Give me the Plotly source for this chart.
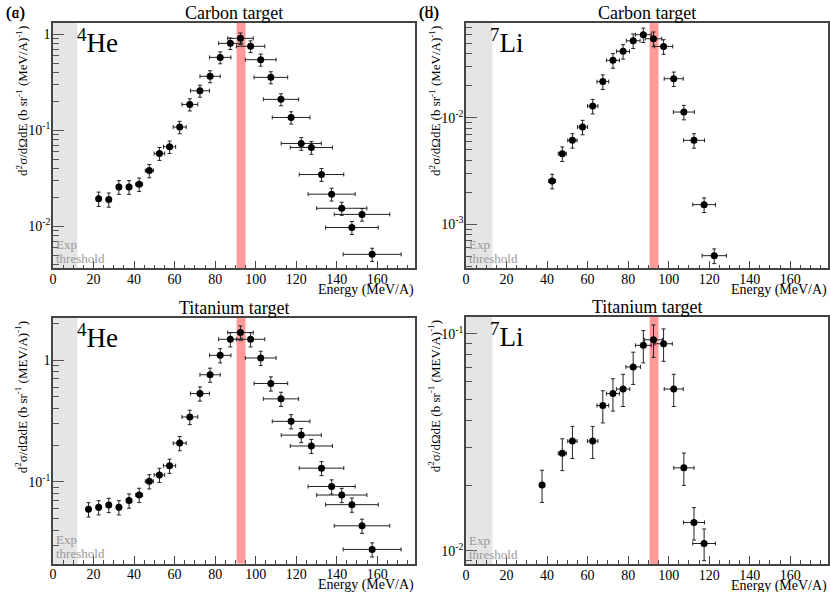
import plotly.graph_objects as go

# ---------------- data ----------------
# (a) 4He, carbon target
he_c_E = [22.5, 27.5, 32.5, 37.5, 42.5, 47.5, 52.5, 57.5, 62.5, 67.5, 72.5, 77.5, 82.5, 87.5,
          92.5, 97.5, 102.5, 107.5, 112.5, 117.5, 122.5, 127.5, 132.5, 137.5, 142.5, 147.5, 152.5, 157.5]
he_c_y = [0.0194, 0.0190, 0.0257, 0.0257, 0.0274, 0.038, 0.0573, 0.0673, 0.108, 0.186, 0.258, 0.365,
          0.575, 0.805, 0.908, 0.750, 0.544, 0.356, 0.210, 0.136, 0.0729, 0.0662, 0.0346, 0.0216,
          0.0154, 0.0097, 0.0133, 0.0051]
he_c_ey = [0.0033, 0.0032, 0.0042, 0.0042, 0.0044, 0.0060, 0.0088, 0.0100, 0.016, 0.027, 0.037, 0.052,
           0.082, 0.11, 0.125, 0.105, 0.078, 0.051, 0.030, 0.020, 0.011, 0.010, 0.0053, 0.0033,
           0.0024, 0.0015, 0.0020, 0.0008]
he_c_ex = [1.0, 1.0, 1.1, 1.3, 1.7, 2.0, 2.6, 3.0, 3.2, 3.9, 4.7, 5.0, 5.3, 5.8, 6.3, 7.0, 7.6, 8.3,
           8.7, 9.3, 9.9, 10.4, 11.0, 11.6, 12.4, 13.0, 13.7, 14.3]

# (b) 7Li, carbon target
li_c_E = [42.5, 47.5, 52.5, 57.5, 62.5, 67.5, 72.5, 77.5, 82.5, 87.5, 92.5, 97.5, 102.5, 107.5,
          112.5, 117.5, 122.5]
li_c_y = [0.00255, 0.0046, 0.00613, 0.00818, 0.01286, 0.0218, 0.0345, 0.0419, 0.0527, 0.0600,
          0.0550, 0.0466, 0.0232, 0.0113, 0.00613, 0.00153, 0.000508]
li_c_ey = [0.0004, 0.00072, 0.00095, 0.00127, 0.0020, 0.0034, 0.0054, 0.0065, 0.0082, 0.0093,
           0.0086, 0.0073, 0.0036, 0.00175, 0.00095, 0.00024, 0.00008]
li_c_ex = [1.7, 2.0, 2.3, 2.5, 2.6, 2.9, 3.2, 3.2, 3.4, 3.9, 4.1, 4.5, 4.7, 5.2, 5.2, 5.6, 6.0]

# (c) 4He, titanium target
he_t_E = [17.5, 22.5, 27.5, 32.5, 37.5, 42.5, 47.5, 52.5, 57.5, 62.5, 67.5, 72.5, 77.5, 82.5, 87.5,
          92.5, 97.5, 102.5, 107.5, 112.5, 117.5, 122.5, 127.5, 132.5, 137.5, 142.5, 147.5, 152.5, 157.5]
he_t_y = [0.0595, 0.0618, 0.0646, 0.0618, 0.0702, 0.0781, 0.101, 0.114, 0.1355, 0.208, 0.341, 0.531,
          0.757, 1.093, 1.48, 1.68, 1.48, 1.04, 0.642, 0.480, 0.314, 0.242, 0.197, 0.1296, 0.0916,
          0.078, 0.065, 0.0436, 0.0279]
he_t_ey = [0.0080, 0.0083, 0.0087, 0.0083, 0.0094, 0.0105, 0.0135, 0.0153, 0.018, 0.028, 0.046, 0.071,
           0.10, 0.146, 0.20, 0.225, 0.20, 0.14, 0.086, 0.064, 0.042, 0.032, 0.026, 0.017, 0.0123,
           0.0105, 0.0087, 0.0058, 0.0037]
he_t_ex = [0.9, 1.0, 1.0, 1.1, 1.3, 1.7, 2.0, 2.6, 3.0, 3.2, 3.9, 4.7, 5.0, 5.3, 5.8, 6.3, 7.0, 7.6,
           8.3, 8.7, 9.3, 9.9, 10.4, 11.0, 11.6, 12.4, 13.0, 13.7, 14.3]

# (d) 7Li, titanium target
li_t_E = [37.5, 47.5, 52.5, 62.5, 67.5, 72.5, 77.5, 82.5, 87.5, 92.5, 97.5, 102.5, 107.5, 112.5, 117.5]
li_t_y = [0.0201, 0.0281, 0.0320, 0.0320, 0.0467, 0.0530, 0.0556, 0.0703, 0.0884, 0.0938, 0.0899,
          0.0556, 0.0241, 0.0135, 0.0108]
li_t_ey = [0.0034, 0.0047, 0.0054, 0.0054, 0.0079, 0.0090, 0.0094, 0.0119, 0.0150, 0.0160, 0.0153,
           0.0094, 0.0041, 0.0023, 0.0018]
li_t_ex = [1.3, 2.0, 2.3, 2.6, 2.9, 3.2, 3.3, 3.6, 3.9, 4.4, 4.3, 4.7, 5.0, 5.2, 5.6]

panel_labels = ["(a)", "(b)", "(c)", "(d)"]
panel_titles = ["Carbon target", "Carbon target", "Titanium target", "Titanium target"]
ions = ["<sup>4</sup>He", "<sup>7</sup>Li", "<sup>4</sup>He", "<sup>7</sup>Li"]
ytitles = ["d<sup>2</sup>σ/dΩdE (b sr<sup>-1</sup> (MeV/A)<sup>-1</sup>)",
           "d<sup>2</sup>σ/dΩdE (b sr<sup>-1</sup> (MeV/A)<sup>-1</sup>)",
           "d<sup>2</sup>σ/dΩdE (b sr<sup>-1</sup> (MEV/A)<sup>-1</sup>)",
           "d<sup>2</sup>σ/dΩdE (b sr<sup>-1</sup> (MEV/A)<sup>-1</sup>)"]
xtitle = "Energy (MeV/A)"
threshold = [12, 13, 12, 13]
beam_band = [90.6, 95.0]
x_ticks = [0, 20, 40, 60, 80, 100, 120, 140, 160]
y_tick_vals = [[0.01, 0.1, 1], [0.001, 0.01], [0.1, 1], [0.01, 0.1]]
y_tick_text = [["10<sup>-2</sup>", "10<sup>-1</sup>", "1"], ["10<sup>-3</sup>", "10<sup>-2</sup>"],
               ["10<sup>-1</sup>", "1"], ["10<sup>-2</sup>", "10<sup>-1</sup>"]]

datasets = [(he_c_E, he_c_y, he_c_ey, he_c_ex), (li_c_E, li_c_y, li_c_ey, li_c_ex),
            (he_t_E, he_t_y, he_t_ey, he_t_ex), (li_t_E, li_t_y, li_t_ey, li_t_ex)]

# ---------------- layout geometry (pixels) ----------------
W, H = 830, 592
FONT = "Times New Roman"
# (left, right, top, bottom) of each frame in pixels
frames = [(49.3, 413.3, 22.7, 268.3), (464.3, 828.3, 22.7, 268.3),
          (49.3, 413.3, 318.0, 563.5), (464.3, 828.3, 317.0, 564.0)]
yranges = [(-2.438, 0.121), (-3.4125, -1.109), (-1.670, 0.345), (-2.061, -0.923)]
xrange_ = (0, 178.8)


def px(x):
    return x / W


def py(y):
    return 1 - y / H


fig = go.Figure()
shapes = []
annotations = []
layout_axes = {}

minor_y = []
for e in range(-5, 2):
    for m in range(2, 10):
        minor_y.append(m * 10 ** e)

for i, (E, y, ey, ex) in enumerate(datasets):
    n = "" if i == 0 else str(i + 1)
    xa, ya = "x" + n, "y" + n
    l, r, t, b = frames[i]
    fig.add_trace(go.Scatter(
        x=E, y=y, xaxis=xa, yaxis=ya, mode="markers",
        marker=dict(color="black", size=7),
        error_y=dict(type="data", array=ey, visible=True, color="#222", thickness=1, width=2),
        error_x=dict(type="data", array=ex, visible=True, color="#222", thickness=1, width=2),
        showlegend=False, hoverinfo="skip"))
    layout_axes["xaxis" + n] = dict(
        domain=[px(l), px(r)], anchor=ya, range=list(xrange_),
        showline=True, mirror=True, linecolor="#444", linewidth=1.5,
        ticks="inside", ticklen=8, tickwidth=1, tickcolor="#444",
        tickvals=x_ticks, ticktext=[str(v) for v in x_ticks], ticklabelstandoff=-3,
        minor=dict(ticks="inside", ticklen=4, tickwidth=1, tickcolor="#444", dtick=5, tick0=0),
        showgrid=False, zeroline=False,
        tickfont=dict(family=FONT, size=14, color="black"))
    layout_axes["yaxis" + n] = dict(
        domain=[py(b), py(t)], anchor=xa, type="log", range=list(yranges[i]),
        showline=True, mirror=True, linecolor="#444", linewidth=1.5,
        ticks="inside", ticklen=11, tickwidth=1, tickcolor="#555",
        tickvals=y_tick_vals[i], ticktext=y_tick_text[i], ticklabelstandoff=-2,
        minor=dict(ticks="inside", ticklen=6, tickwidth=1, tickcolor="#555",
                   tickmode="array", tickvals=minor_y),
        showgrid=False, zeroline=False,
        tickfont=dict(family=FONT, size=14, color="black"))
    # threshold band and beam band
    shapes.append(dict(type="rect", xref=xa, yref=ya + " domain", x0=0, x1=threshold[i], y0=0, y1=1,
                       fillcolor="#e5e5e5", line=dict(width=0), layer="below"))
    shapes.append(dict(type="rect", xref=xa, yref=ya + " domain", x0=beam_band[0], x1=beam_band[1],
                       y0=0, y1=1, fillcolor="#ff9a9a", line=dict(width=0), layer="below"))
    # texts
    annotations.append(dict(text=panel_labels[i], x=px(l - 49), y=py(12), xref="paper", yref="paper",
                            xanchor="left", yanchor="middle", showarrow=False,
                            font=dict(family=FONT, size=17, color="black")))
    annotations.append(dict(text=panel_titles[i], x=px((l + r) / 2), y=py(t - 10), xref="paper",
                            yref="paper", xanchor="center", yanchor="middle", showarrow=False,
                            font=dict(family=FONT, size=18, color="black")))
    annotations.append(dict(text=ions[i], x=px(l + 22), y=py(t + 18), xref="paper", yref="paper",
                            xanchor="left", yanchor="middle", showarrow=False,
                            font=dict(family=FONT, size=27, color="black")))
    annotations.append(dict(text="Exp", x=px(l + 1), y=py(b - 24), xref="paper", yref="paper",
                            xanchor="left", yanchor="middle", showarrow=False,
                            font=dict(family=FONT, size=13, color="#999")))
    annotations.append(dict(text="threshold", x=px(l + 1), y=py(b - 10), xref="paper", yref="paper",
                            xanchor="left", yanchor="middle", showarrow=False,
                            font=dict(family=FONT, size=13, color="#999")))
    annotations.append(dict(text=xtitle, x=px(r + 1), y=py(b + 21.5), xref="paper", yref="paper",
                            xanchor="right", yanchor="middle", showarrow=False,
                            font=dict(family=FONT, size=14, color="black")))
    annotations.append(dict(text=ytitles[i], x=px(l - 32), y=py(t + 1), xref="paper", yref="paper",
                            xanchor="center", yanchor="top", textangle=-90, showarrow=False,
                            font=dict(family=FONT, size=13, color="black")))

fig.update_layout(
    width=W, height=H, margin=dict(l=0, r=0, t=0, b=0),
    paper_bgcolor="white", plot_bgcolor="white",
    font=dict(family=FONT, color="black"),
    shapes=shapes, annotations=annotations, **layout_axes)

fig.write_html("out.html", config={"displayModeBar": False},
               post_script="document.body.style.margin='0';")
